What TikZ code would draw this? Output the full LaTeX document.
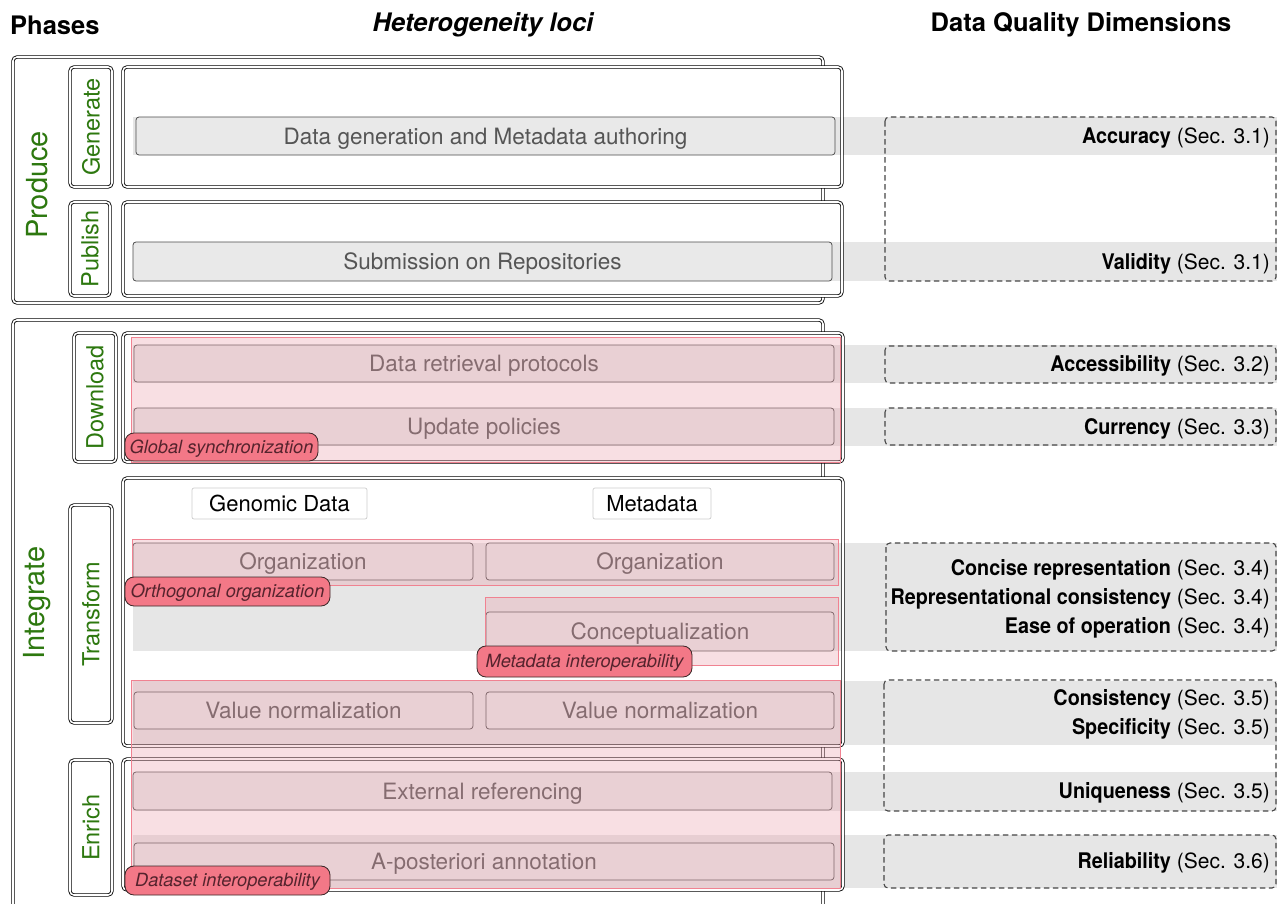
\documentclass[tikz,border=0pt]{standalone}
\usepackage{fontspec}
\setmainfont{TeX Gyre Heros}
\newfontfamily\cnd{TeX Gyre Heros}[FakeStretch=0.92]
\definecolor{band}{RGB}{230,230,230}
\definecolor{boxfill}{RGB}{233,233,233}
\definecolor{boxline}{RGB}{75,75,75}
\definecolor{boxtext}{RGB}{85,85,85}
\definecolor{pinkfill}{RGB}{236,158,170}
\definecolor{pinkline}{RGB}{240,130,145}
\definecolor{pillfill}{RGB}{243,120,135}
\definecolor{pillline}{RGB}{60,40,40}
\definecolor{pilltext}{RGB}{85,35,45}
\definecolor{phgreen}{RGB}{45,120,15}
\definecolor{dashline}{RGB}{70,70,70}
\tikzset{
  wh/.style 2 args={minimum width=#1pt, minimum height=#2pt},
  dbl/.style={draw=black, line width=0.85pt, double=white, double distance=1.6pt, rounded corners=4pt},
  labbox/.style={dbl, fill=white, inner sep=0pt, text=phgreen, font=\fontsize{23.5}{26}\selectfont},
  phase/.style={text=phgreen, inner sep=0pt, font=\fontsize{29}{32}\selectfont},
  ibox/.style={draw=boxline, fill=boxfill, line width=0.75pt, rounded corners=3pt, inner sep=0pt, text=boxtext, text height=17pt, text depth=1pt, font=\fontsize{22.5}{26}\selectfont},
  hbox/.style={draw=black!20, fill=white, line width=0.7pt, rounded corners=2pt, inner sep=0pt, text height=17pt, text depth=1pt, font=\fontsize{22}{26}\selectfont},
  overlay/.style={fill=pinkfill, fill opacity=0.32, draw=pinkline, draw opacity=1, line width=0.9pt},
  pill/.style={fill=pillfill, draw=pillline, line width=0.85pt, rounded corners=9pt, inner sep=0pt, text=pilltext, text height=13pt, text depth=1pt, font=\fontsize{18.2}{20}\selectfont\itshape},
  dqbox/.style={draw=dashline, dash pattern=on 5.5pt off 3.5pt, line width=1.1pt, rounded corners=4pt},
  dq/.style={anchor=east, inner sep=0pt, text height=16pt, text depth=1pt, font=\fontsize{21}{24}\selectfont},
  head/.style={inner sep=0pt, font=\fontsize{25.5}{28}\selectfont\bfseries},
}
\newcommand\dqb[1]{{\cnd\bfseries\fontsize{21.5}{24}\selectfont #1}}
\begin{document}
\begin{tikzpicture}[x=1pt,y=-1pt]
\useasboundingbox (0,0) rectangle (1277,903);
\fill[white] (0,0) rectangle (1277,903);

% headers
\node[head, anchor=west] (hph) at (10,25) {Phases};
\node[head] (hhl) at (483,25) {\itshape Heterogeneity loci};
\node[head] (hdq) at (1081,25) {Data Quality Dimensions};

% outer phase boxes
\draw[dbl, fill=white] (13,57) rectangle (823,303);
\draw[dbl, fill=white] (13,320) rectangle (823,930);
\node[phase, rotate=90] (produce) at (37,185) {Produce};
\node[phase, rotate=90] (integrate) at (37,603) {Integrate};

% sub-phase label boxes
\node[labbox, rotate=90, wh={120}{42}] (gen) at (91,127) {Generate};
\node[labbox, rotate=90, wh={94}{40}] (pub) at (90,249) {Publish};
\node[labbox, rotate=90, wh={129}{42}] (down) at (95,397.5) {Download};
\node[labbox, rotate=90, wh={218}{42}] (trans) at (91,614) {Transform};
\node[labbox, rotate=90, wh={135}{42}] (enr) at (91,827.5) {Enrich};

% content boxes (fill)
\fill[white, rounded corners=4pt] (123,67) rectangle (842,187);
\fill[white, rounded corners=4pt] (123,202) rectangle (842,296);
\fill[white, rounded corners=4pt] (123,333) rectangle (843,462);
\fill[white, rounded corners=4pt] (123,478) rectangle (843,746);
\fill[white, rounded corners=4pt] (123,759) rectangle (843,890);

% gray bands
\foreach \a/\b in {117/155,242/281,345/383,408/446,543/651,681/745,772/811,835/888}
  \fill[band] (133,\a) rectangle (1290,\b);

% content boxes (borders)
\draw[dbl] (123,67) rectangle (842,187);
\draw[dbl] (123,202) rectangle (842,296);
\draw[dbl] (123,333) rectangle (843,462);
\draw[dbl] (123,478) rectangle (843,746);
\draw[dbl] (123,759) rectangle (843,890);

% dashed quality boxes
\draw[dqbox] (885,117) rectangle (1276,281);
\draw[dqbox] (885,346) rectangle (1276,383);
\draw[dqbox] (885,408) rectangle (1276,445);
\draw[dqbox] (886,543) rectangle (1276,651);
\draw[dqbox] (884,680) rectangle (1276,811);
\draw[dqbox] (884,835) rectangle (1276,888);

% inner boxes
\node[ibox, wh={699}{38}] (dg) at (485.5,136) {Data generation and Metadata authoring};
\node[ibox, wh={699}{39}] (sub) at (482.5,261.5) {Submission on Repositories};
\node[ibox, wh={700}{37}] (drp) at (484,363.5) {Data retrieval protocols};
\node[ibox, wh={700}{37}] (upd) at (484,426.5) {Update policies};
\node[hbox, wh={175}{31}] (gd) at (279.5,503.5) {Genomic Data};
\node[hbox, wh={118}{31}] (md) at (652,503.5) {Metadata};
\node[ibox, wh={340}{37}] (orgl) at (303,561.5) {Organization};
\node[ibox, wh={348}{37}] (orgr) at (660,561.5) {Organization};
\node[ibox, wh={348}{39}] (conc) at (660,631.5) {Conceptualization};
\node[ibox, wh={339}{37}] (vnl) at (303.5,710.5) {Value normalization};
\node[ibox, wh={348}{37}] (vnr) at (660,710.5) {Value normalization};
\node[ibox, wh={699}{38}] (ext) at (482.5,791) {External referencing};
\node[ibox, wh={700}{37}] (apa) at (484,861.5) {A-posteriori annotation};

% pink overlays
\draw[overlay] (131,337) rectangle (840,462);
\draw[overlay] (132,539) rectangle (838,585);
\draw[overlay] (485,597) rectangle (838,665);
\draw[overlay] (131,680) rectangle (840,888);

% pills
\node[pill, wh={193}{28}] (gs) at (221.5,447) {Global synchronization};
\node[pill, wh={205}{29}] (oo) at (227.5,591.5) {Orthogonal organization};
\node[pill, wh={215}{31}] (mi) at (584.5,661.5) {Metadata interoperability};
\node[pill, wh={205}{29}] (di) at (227.5,880.5) {Dataset interoperability};

% data quality dimensions
\node[dq] (acc) at (1270,136) {\dqb{Accuracy} (Sec. 3.1)};
\node[dq] (val) at (1270,262) {\dqb{Validity} (Sec. 3.1)};
\node[dq] (acs) at (1270,364) {\dqb{Accessibility} (Sec. 3.2)};
\node[dq] (cur) at (1270,427) {\dqb{Currency} (Sec. 3.3)};
\node[dq] (cr) at (1270,568) {\dqb{Concise representation} (Sec. 3.4)};
\node[dq] (rc) at (1270,597) {\dqb{Representational consistency} (Sec. 3.4)};
\node[dq] (eo) at (1270,626) {\dqb{Ease of operation} (Sec. 3.4)};
\node[dq] (cons) at (1270,698) {\dqb{Consistency} (Sec. 3.5)};
\node[dq] (spec) at (1270,727) {\dqb{Specificity} (Sec. 3.5)};
\node[dq] (uniq) at (1270,791) {\dqb{Uniqueness} (Sec. 3.5)};
\node[dq] (rel) at (1270,861) {\dqb{Reliability} (Sec. 3.6)};
\end{tikzpicture}
\end{document}
